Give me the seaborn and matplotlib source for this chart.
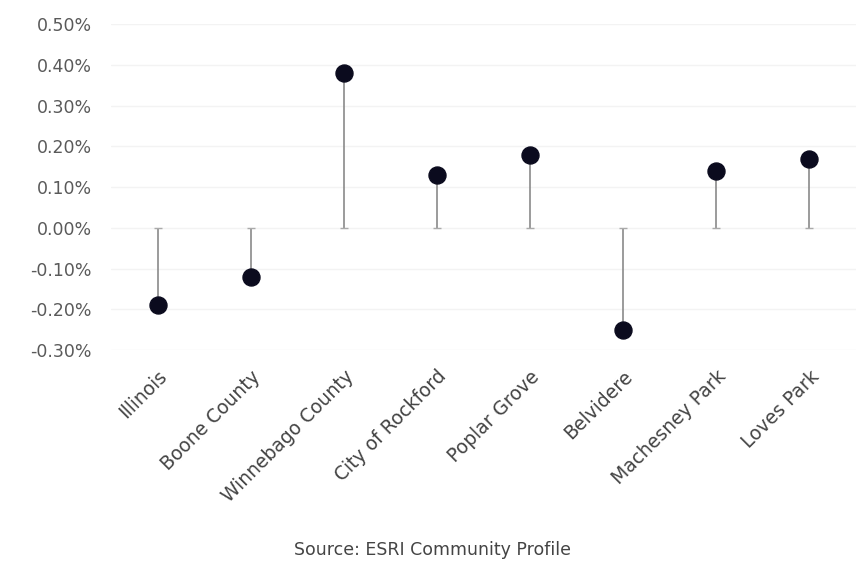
import matplotlib
matplotlib.use("Agg")
import matplotlib.pyplot as plt
import seaborn as sns
import pandas as pd
from matplotlib.ticker import FuncFormatter

categories = ["Illinois", "Boone County", "Winnebago County", "City of Rockford",
              "Poplar Grove", "Belvidere", "Machesney Park", "Loves Park"]
values = [-0.19, -0.12, 0.38, 0.13, 0.18, -0.25, 0.14, 0.17]
yticks = [-0.30, -0.20, -0.10, 0.00, 0.10, 0.20, 0.30, 0.40, 0.50]
source_text = "Source: ESRI Community Profile"

df = pd.DataFrame({"place": categories, "change": values})

sns.set_theme(style="white")
plt.rcParams["font.family"] = ["DejaVu Sans"]

fig = plt.figure(figsize=(8.68, 5.64), dpi=100)
ax = fig.add_axes([0.128, 0.379, 0.858, 0.578])

xpos = list(range(len(categories)))
for y in yticks:
    ax.axhline(y, color="#f3f3f3", lw=1, zorder=0)
ax.vlines(xpos, 0, df["change"], color="#8a8a8a", lw=1.2, zorder=1)
ax.scatter(xpos, [0] * len(xpos), marker="_", s=40, color="#aaaaaa", lw=1, zorder=1)
sns.scatterplot(x=xpos, y=df["change"], ax=ax, s=150, color="#0b0b1e",
                edgecolor="#0b0b1e", zorder=3, legend=False)

ax.set_xlim(-0.5, len(categories) - 0.5)
ax.set_ylim(-0.30, 0.50)
ax.set_yticks(yticks)
ax.yaxis.set_major_formatter(FuncFormatter(lambda v, p: f"{v:.2f}%"))
ax.set_xticks(xpos)
ax.set_xticklabels(categories, rotation=45, ha="right", rotation_mode="anchor")
ax.tick_params(axis="y", length=0, labelsize=12.5, colors="#5a5a5a", pad=14)
ax.tick_params(axis="x", length=0, labelsize=13.5, colors="#444444", pad=12)
for s in ax.spines.values():
    s.set_visible(False)
ax.set_xlabel("")
ax.set_ylabel("")

fig.text(0.498, 0.025, source_text, ha="center", va="center", fontsize=12.5, color="#444444")

fig.savefig("out.png", dpi=100)
